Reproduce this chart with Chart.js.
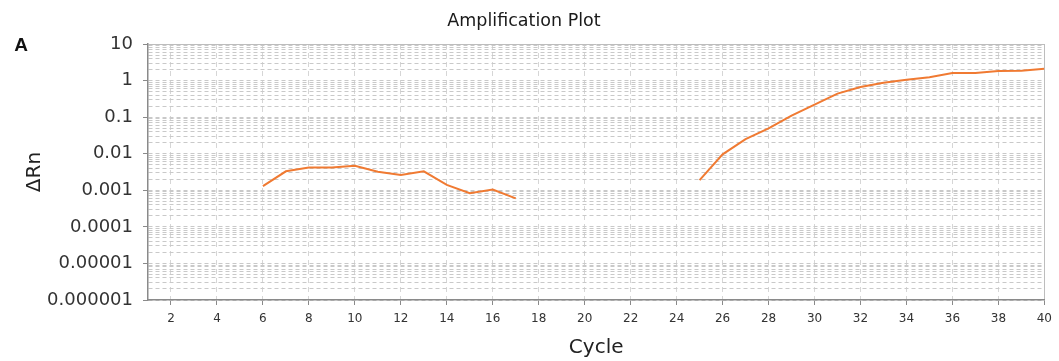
<!DOCTYPE html>
<html>
<head>
<meta charset="utf-8">
<script src="https://cdn.jsdelivr.net/npm/chart.js@4.4.1/dist/chart.umd.min.js"></script>
<style>
  html, body { margin: 0; padding: 0; background: #fff; }
  #wrap { width: 1059px; height: 361px; }
</style>
</head>
<body>
<div id="wrap"><canvas id="ampPlot" width="1059" height="361"></canvas></div>
<script>
// values (log scale)
const cyclesEarly = [6, 7, 8, 9, 10, 11, 12, 13, 14, 15, 16, 17];
const deltaRnEarly = [0.0013, 0.0033, 0.0042, 0.0042, 0.0047, 0.0032, 0.0026, 0.0033, 0.0014, 0.00083, 0.00105, 0.0006];
const cyclesLate = [25, 26, 27, 28, 29, 30, 31, 32, 33, 34, 35, 36, 37, 38, 39, 40];
const deltaRnLate = [0.0019, 0.0096, 0.025, 0.049, 0.11, 0.22, 0.44, 0.67, 0.87, 1.06, 1.23, 1.6, 1.62, 1.82, 1.85, 2.1];

const cycleTicks = [2, 4, 6, 8, 10, 12, 14, 16, 18, 20, 22, 24, 26, 28, 30, 32, 34, 36, 38, 40];
const decadeTicks = [0.000001, 0.00001, 0.0001, 0.001, 0.01, 0.1, 1, 10];
const decadeLabels = ['0.000001', '0.00001', '0.0001', '0.001', '0.01', '0.1', '1', '10'];
const minorSteps = [2, 3, 4, 5, 6, 7, 8, 9];

const lineColor = '#f07a32';
const gridColor = '#c9c9c9';
const vGridColor = '#d6d6d6';
const axisColor = '#8a8a8a';

const toPoints = (xs, ys) => xs.map((x, i) => ({ x: x, y: ys[i] }));

// the "A" panel letter
const panelLetter = {
  id: 'panelLetter',
  afterDraw(chart) {
    const ctx = chart.ctx;
    ctx.save();
    ctx.font = 'bold 19px "Liberation Sans"';
    ctx.fillStyle = '#111';
    ctx.textAlign = 'center';
    ctx.textBaseline = 'middle';
    ctx.fillText('A', 21, 46);
    ctx.restore();
  }
};

new Chart(document.getElementById('ampPlot'), {
  type: 'line',
  data: {
    datasets: [
      {
        data: toPoints(cyclesEarly, deltaRnEarly),
        borderColor: lineColor,
        borderWidth: 2,
        pointRadius: 0,
        tension: 0
      },
      {
        data: toPoints(cyclesLate, deltaRnLate),
        borderColor: lineColor,
        borderWidth: 2,
        pointRadius: 0,
        tension: 0
      }
    ]
  },
  options: {
    responsive: false,
    devicePixelRatio: 1,
    animation: false,
    layout: { padding: { left: 0, right: 11, top: 0, bottom: 0 } },
    plugins: {
      legend: { display: false },
      tooltip: { enabled: false },
      title: {
        display: true,
        text: 'Amplification Plot',
        color: '#1a1a1a',
        font: { family: 'DejaVu Sans', size: 17.5, weight: 'normal' },
        padding: { top: 10.5, bottom: 12.5 }
      }
    },
    scales: {
      x: {
        type: 'linear',
        min: 1,
        max: 40,
        afterBuildTicks: (scale) => {
          scale.ticks = cycleTicks.map(v => ({ value: v }));
        },
        afterFit: (scale) => { scale.height = 61; },
        ticks: {
          autoSkip: false,
          maxRotation: 0,
          color: '#333',
          font: { family: 'DejaVu Sans', size: 12 },
          padding: 7
        },
        grid: {
          color: (c) => (c.tick && c.tick.value === 40) ? '#bdbdbd' : vGridColor,
          tickColor: axisColor,
          tickLength: 5
        },
        border: {
          color: axisColor,
          width: 1.5,
          dash: (c) => (c.tick && c.tick.value === 40) ? [] : [5, 4]
        },
        title: {
          display: true,
          text: 'Cycle',
          color: '#222',
          font: { family: 'DejaVu Sans', size: 20 },
          padding: { top: 0, bottom: 1 }
        }
      },
      y: {
        type: 'logarithmic',
        min: 0.000001,
        max: 10,
        afterBuildTicks: (scale) => {
          const ticks = [];
          decadeTicks.forEach((d, i) => {
            ticks.push({ value: d, major: true });
            if (i < decadeTicks.length - 1) {
              minorSteps.forEach(m => ticks.push({ value: d * m, major: false }));
            }
          });
          scale.ticks = ticks;
        },
        afterFit: (scale) => { scale.width = 148; },
        ticks: {
          autoSkip: false,
          color: '#333',
          font: { family: 'DejaVu Sans', size: 18 },
          padding: 10,
          callback: (value) => {
            const i = decadeTicks.indexOf(value);
            return i >= 0 ? decadeLabels[i] : '';
          }
        },
        grid: {
          color: (c) => (c.tick && c.tick.value === 10) ? '#bdbdbd' : gridColor,
          tickColor: (c) => (c.tick && c.tick.major) ? axisColor : 'rgba(0,0,0,0)',
          tickLength: 5
        },
        border: {
          color: axisColor,
          width: 1.5,
          dash: (c) => (c.tick && c.tick.value === 10) ? [] : [4, 3]
        },
        title: {
          display: true,
          text: 'ΔRn',
          color: '#222',
          font: { family: 'DejaVu Sans', size: 20 },
          padding: { top: 23, bottom: 0 }
        }
      }
    }
  },
  plugins: [panelLetter]
});
</script>
</body>
</html>
